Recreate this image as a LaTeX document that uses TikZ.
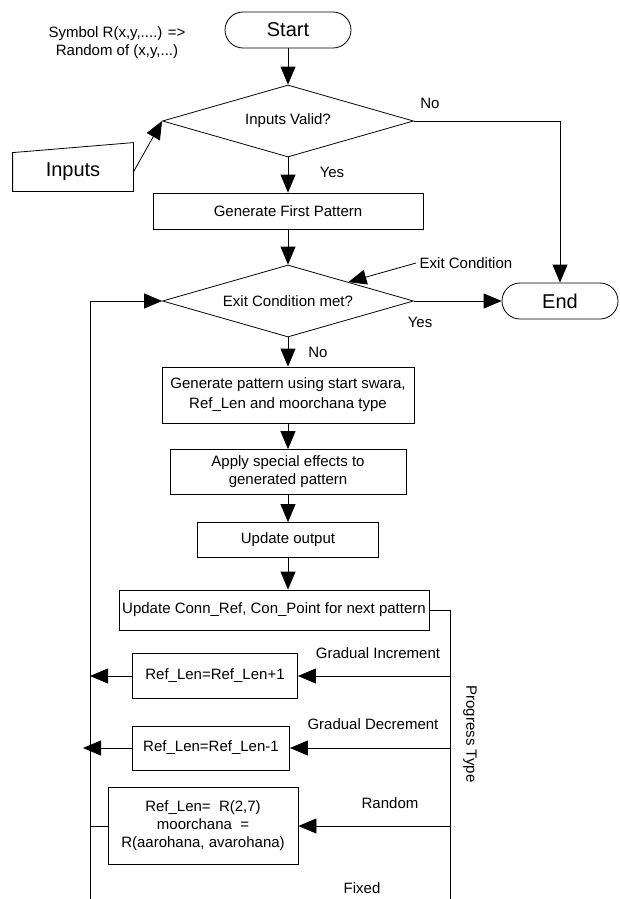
\documentclass[tikz,border=0pt]{standalone}
\usepackage{fontspec}
\setmainfont{Liberation Sans}
\usetikzlibrary{shapes.geometric,arrows.meta,calc}

\begin{document}
\begin{tikzpicture}[x=1pt,y=-1pt,line width=0.8pt,font=\fontsize{15}{18}\selectfont,
  procbox/.style={draw,align=center,inner sep=1pt},
  termbox/.style={draw,rounded corners=18pt,minimum width=116pt,minimum height=36pt,font=\fontsize{20}{24}\selectfont},
  decision/.style={draw,diamond,aspect=3.5,inner sep=0pt,minimum width=251pt,minimum height=72pt},
  flow/.style={-{Triangle[length=18pt,width=15pt]}}]
\useasboundingbox (0,0) rectangle (619,899);
\node[align=center] (legend) at (117,43) {Symbol R(x,y,....) =>\\Random of (x,y,...)};
\node[termbox,minimum width=126pt] (start) at (288,30) {Start};
\node[decision] (valid) at (288,121) {Inputs Valid?};
\node[minimum width=120pt,minimum height=38pt,font=\fontsize{20}{24}\selectfont] (inputs) at (73,172) {Inputs};
\draw (inputs.south west) -- (inputs.south east) -- ($(inputs.north east)+(0,-10)$) -- (inputs.north west) -- cycle; % manual input
\node[procbox,minimum width=270pt,minimum height=36pt] (first) at (288,211) {Generate First Pattern};
\node[decision] (exit) at (288,301) {Exit Condition met?};
\node[termbox] (end) at (560,301) {End};
\node[procbox,minimum width=252pt,minimum height=56pt,font=\fontsize{15}{20}\selectfont] (gen) at (288,395) {Generate pattern using start swara,\\Ref\_Len and moorchana type};
\node[procbox,minimum width=236pt,minimum height=45pt] (apply) at (288,472) {Apply special effects to\\generated pattern};
\node[procbox,minimum width=181pt,minimum height=35pt] (output) at (288,540) {Update output};
\node[procbox,minimum width=310pt,minimum height=40pt] (conn) at (274,610) {Update Conn\_Ref, Con\_Point for next pattern};
\node[procbox,minimum width=165pt,minimum height=45pt] (inc) at (215,676) {Ref\_Len=Ref\_Len+1};
\node[procbox,minimum width=157pt,minimum height=44pt] (dec) at (211,748) {Ref\_Len=Ref\_Len-1};
\node[procbox,minimum width=190pt,minimum height=77pt] (rnd) at (203,826) {Ref\_Len=~~R(2,7)\\moorchana~~=\\R(aarohana, avarohana)};
% labels
\node (novalid) at (430,103) {No};
\node (yesvalid) at (332,172) {Yes};
\node (exitlbl) at (466,263) {Exit Condition};
\node (yesexit) at (420,322) {Yes};
\node (noexit) at (318,352) {No};
\node (inclbl) at (378,653) {Gradual Increment};
\node (declbl) at (373,724) {Gradual Decrement};
\node (rndlbl) at (390,803) {Random};
\node (fixlbl) at (362,888) {Fixed};
\node[rotate=-90] (ptype) at (470,734) {Progress Type};
\coordinate (ptop) at (450,610); % progress type line
\coordinate (pbot) at (450,899);
\coordinate (ltop) at (90,301); % loop back line
\coordinate (lbot) at (90,899);
% connectors
\draw[flow] (start) -- (valid);
\draw[flow] (valid.east) -| (end.north);
\draw[flow] (inputs.east) -- (valid.west);
\draw[flow] (valid) -- (first);
\draw[flow] (first) -- (exit);
\draw[flow] (exit) -- (end);
\draw[flow] (exitlbl.west) -- ($(exit.north)!0.48!(exit.east)$);
\draw[flow] (exit) -- (gen);
\draw[flow] (gen) -- (apply);
\draw[flow] (apply) -- (output);
\draw[flow] (output.south) -- (output.south |- conn.north);
\draw (conn.east) -- (ptop) -- (pbot);
\draw[flow] (inc.east -| ptop) -- (inc.east);
\draw[flow] (dec.east -| ptop) -- (dec.east);
\draw[flow] (rnd.east -| ptop) -- (rnd.east);
\draw[flow] (inc.west) -- (inc.west -| ltop);
\draw[flow] (dec.west) -- ($(dec.west -| ltop)+(-7,0)$);
\draw (rnd.west) -- (rnd.west -| ltop);
\draw[flow] (lbot) -- (ltop) -- (exit.west);
\end{tikzpicture}
\end{document}
